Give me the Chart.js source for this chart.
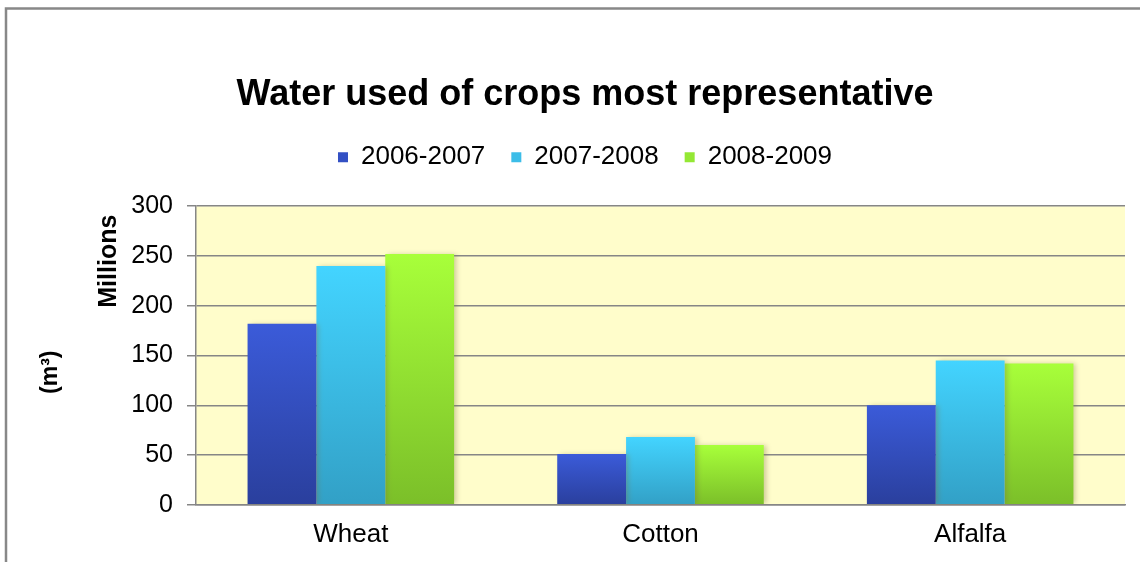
<!DOCTYPE html>
<html>
<head>
<meta charset="utf-8">
<title>Water used of crops most representative</title>
<script src="https://cdn.jsdelivr.net/npm/chart.js@4.4.0/dist/chart.umd.min.js"></script>
<style>
  html, body { margin: 0; padding: 0; background: #ffffff; }
  #wrap { width: 1140px; height: 562px; position: relative; }
</style>
</head>
<body>
<div id="wrap"><canvas id="chart"></canvas></div>
<script>
// chart data (millions of m3)
const crops = ['Wheat', 'Cotton', 'Alfalfa'];
const seasons = ['2006-2007', '2007-2008', '2008-2009'];
const water0607 = [182, 51, 100];
const water0708 = [240, 68, 145];
const water0809 = [252, 60, 142];
const yTicks = [0, 50, 100, 150, 200, 250, 300];

// top / bottom colours of the bar gradients
const barColors = [
  ['#3b5bd9', '#2a3f9d'],
  ['#43d4ff', '#32a0c6'],
  ['#a8ff3a', '#7bbf29']
];
const legendSolid = ['#3350c4', '#3cbde8', '#94e834'];

const FONT = "'Liberation Sans', Arial, sans-serif";

// vertical gradient per bar, from the bar top down to zero
const barFill = (idx) => (ctx) => {
  const chart = ctx.chart;
  const y = chart.scales && chart.scales.y;
  if (!chart.chartArea || !y || ctx.parsed == null) return barColors[idx][0];
  const top = y.getPixelForValue(ctx.parsed.y);
  const bottom = y.getPixelForValue(0);
  if (!isFinite(top) || !isFinite(bottom) || top === bottom) return barColors[idx][0];
  const g = chart.ctx.createLinearGradient(0, top, 0, bottom);
  g.addColorStop(0, barColors[idx][0]);
  g.addColorStop(1, barColors[idx][1]);
  return g;
};

// outer frame, yellow plot background, axis labels
const decorPlugin = {
  id: 'decor',
  beforeLayout(chart) {
    const lg = chart.legend;
    if (lg && !lg._extraGap) {
      const fit = lg.fit;
      lg.fit = function () { fit.call(this); this.height += 26; };
      lg._extraGap = true;
    }
  },
  beforeDraw(chart) {
    const { ctx, chartArea } = chart;
    ctx.save();
    ctx.strokeStyle = '#888888';
    ctx.lineWidth = 2.5;
    ctx.beginPath();
    ctx.moveTo(6, chart.height + 5);
    ctx.lineTo(6, 8.5);
    ctx.lineTo(chart.width + 5, 8.5);
    ctx.stroke();
    ctx.fillStyle = '#fffdcb';
    ctx.fillRect(chartArea.left, chartArea.top, chartArea.right - chartArea.left, chartArea.bottom - chartArea.top);
    ctx.restore();
  },
  beforeDatasetsDraw(chart) {
    const ctx = chart.ctx;
    ctx.save();
    ctx.shadowColor = 'rgba(120, 110, 60, 0.35)';
    ctx.shadowBlur = 5;
    ctx.shadowOffsetX = 3;
    ctx.shadowOffsetY = 0;
  },
  afterDatasetsDraw(chart) {
    chart.ctx.restore();
  },
  afterDraw(chart) {
    const { ctx, chartArea } = chart;
    const vText = (text, x, y, size) => {
      ctx.save();
      ctx.translate(x, y);
      ctx.rotate(-Math.PI / 2);
      ctx.fillStyle = '#000000';
      ctx.font = 'bold ' + size + 'px ' + FONT;
      ctx.textAlign = 'center';
      ctx.textBaseline = 'middle';
      ctx.fillText(text, 0, 0);
      ctx.restore();
    };
    vText('Millions', chartArea.left - 87, chartArea.top + 55, 25);
    vText('(m³)', chartArea.left - 145, chartArea.top + 166, 23);
  }
};

new Chart(document.getElementById('chart'), {
  type: 'bar',
  data: {
    labels: crops,
    datasets: [
      { label: seasons[0], data: water0607, backgroundColor: barFill(0) },
      { label: seasons[1], data: water0708, backgroundColor: barFill(1) },
      { label: seasons[2], data: water0809, backgroundColor: barFill(2) }
    ]
  },
  options: {
    responsive: true,
    maintainAspectRatio: false,
    animation: false,
    categoryPercentage: 0.667,
    barPercentage: 1.0,
    layout: { padding: { top: 0, left: 45, right: 15, bottom: 0 } },
    plugins: {
      title: {
        display: true,
        text: 'Water used of crops most representative',
        color: '#000000',
        font: { family: FONT, size: 36, weight: 'bold' },
        padding: { top: 73, bottom: 2 }
      },
      legend: {
        position: 'top',
        labels: {
          color: '#000000',
          font: { family: FONT, size: 26 },
          boxWidth: 10,
          boxHeight: 10,
          padding: 26,
          generateLabels(chart) {
            return chart.data.datasets.map((ds, i) => ({
              text: ds.label,
              fillStyle: legendSolid[i],
              strokeStyle: legendSolid[i],
              lineWidth: 0,
              hidden: false,
              datasetIndex: i
            }));
          }
        }
      },
      tooltip: { enabled: false }
    },
    scales: {
      x: {
        grid: { display: false, drawTicks: false },
        border: { display: true, color: '#868686', width: 1.5 },
        ticks: { color: '#000000', font: { family: FONT, size: 26 }, padding: 14 },
        afterFit(scale) { scale.height = scale.height - 2; }
      },
      y: {
        min: 0,
        max: 300,
        afterBuildTicks(scale) {
          scale.ticks = yTicks.map(v => ({ value: v }));
        },
        afterFit(scale) { scale.width = 151; },
        grid: { color: '#868686', lineWidth: 1.5, tickLength: 9, drawTicks: true },
        border: { display: true, color: '#868686', width: 1.5 },
        ticks: { color: '#000000', font: { family: FONT, size: 25 }, padding: 14 }
      }
    }
  },
  plugins: [decorPlugin]
});
</script>
</body>
</html>
